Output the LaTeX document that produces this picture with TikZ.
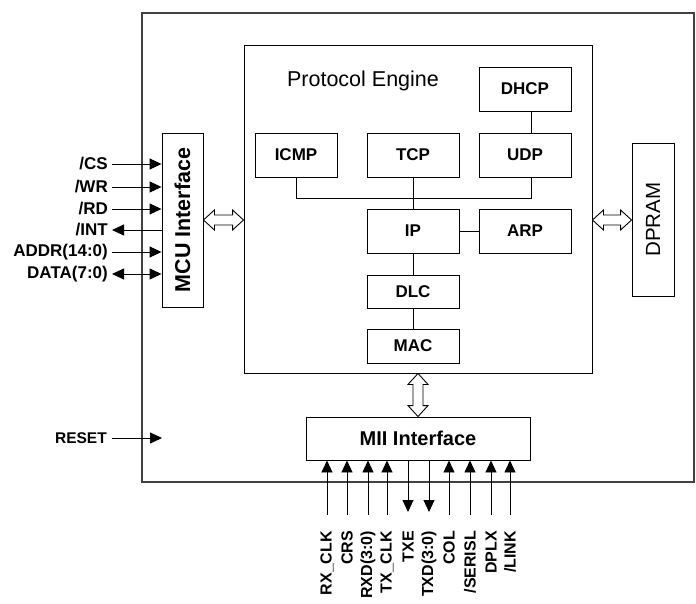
\documentclass[tikz,border=0pt]{standalone}
\usepackage{fontspec}
\setmainfont{Liberation Sans}
\usetikzlibrary{arrows.meta,calc}
\begin{document}
\begin{tikzpicture}[x=1pt,y=-1pt,
  frame/.style={draw=black!75,line width=1.3pt,inner sep=0pt},
  box/.style={draw,line width=0.9pt,inner sep=0pt,
    font=\fontsize{17}{19}\selectfont\bfseries},
  wire/.style={line width=0.9pt},
  sigfont/.style={font=\fontsize{17}{19}\selectfont\bfseries},
  pinfont/.style={font=\fontsize{16}{18}\selectfont\bfseries},
  sigin/.style={line width=0.9pt,-{Triangle[length=12pt,width=11pt]}},
  sigout/.style={line width=0.9pt,{Triangle[length=12pt,width=11pt]}-},
  sigboth/.style={line width=0.9pt,{Triangle[length=12pt,width=11pt]}-{Triangle[length=12pt,width=11pt]}},
  hollow/.style={draw,fill=white,line width=0.9pt,line join=miter}
]
\useasboundingbox (0,0) rectangle (696,604);

% chip outline and the main blocks
\node[frame,minimum width=552pt,minimum height=469pt] (chip) at (418,247.5) {};
\node[box,minimum width=348pt,minimum height=328pt] (pe) at (418,209) {};
\node[font=\fontsize{21.5}{23}\selectfont] (petitle) at (363,81) {Protocol Engine};
\node[box,minimum width=41pt,minimum height=174pt] (mcu) at (182.5,220) {};
\node[rotate=90,font=\fontsize{21.5}{23}\selectfont\bfseries] (mcutext) at (mcu.center) {MCU Interface};
\node[box,minimum width=42pt,minimum height=153pt] (dpram) at (653,219.5) {};
\node[rotate=90,font=\fontsize{20.5}{22}\selectfont] (dpramtext) at (dpram.center) {DPRAM};
\node[box,minimum width=224pt,minimum height=43pt,font=\fontsize{20}{22}\selectfont\bfseries] (mii) at (418,438.5) {MII Interface};

% protocol stack
\node[box,minimum width=92pt,minimum height=44pt] (dhcp) at (525,89) {DHCP};
\node[box,minimum width=82pt,minimum height=44pt] (icmp) at (296,155) {ICMP};
\node[box,minimum width=92pt,minimum height=44pt] (tcp) at (413,155) {TCP};
\node[box,minimum width=92pt,minimum height=44pt] (udp) at (525,155) {UDP};
\node[box,minimum width=92pt,minimum height=44pt] (ip) at (413,231) {IP};
\node[box,minimum width=92pt,minimum height=44pt] (arp) at (525,231) {ARP};
\node[box,minimum width=92pt,minimum height=33pt] (dlc) at (413,291.5) {DLC};
\node[box,minimum width=92pt,minimum height=34pt] (mac) at (413,346) {MAC};

\coordinate (bus) at (413,198);
\coordinate (udpbot) at ($(udp.south)+(6,0)$);
\draw[wire] (icmp.south) -- (icmp.south |- bus) -- (udpbot |- bus) -- (udpbot);
\draw[wire] (tcp.south) -- (ip.north);
\draw[wire] ($(dhcp.south)+(6,0)$) -- ($(udp.north)+(6,0)$);
\draw[wire] (ip.east) -- (arp.west);
\draw[wire] (ip.south) -- (dlc.north);
\draw[wire] (dlc.south) -- (mac.north);

% hollow double arrows between blocks
\coordinate (ma) at (mcu.east |- 0,220);
\coordinate (mb) at (pe.west |- 0,220);
\draw[hollow] (ma) -- ++(11,-10) -- ++(0,5) -- ($(mb)+(-11,-5)$) -- ++(0,-5) -- (mb)
  -- ++(-11,10) -- ++(0,-5) -- ($(ma)+(11,5)$) -- ++(0,5) -- cycle;
\coordinate (da) at (pe.east |- 0,220);
\coordinate (db) at (dpram.west |- 0,220);
\draw[hollow] (da) -- ++(11,-10) -- ++(0,5) -- ($(db)+(-11,-5)$) -- ++(0,-5) -- (db)
  -- ++(-11,10) -- ++(0,-5) -- ($(da)+(11,5)$) -- ++(0,5) -- cycle;
\coordinate (va) at (pe.south);
\coordinate (vb) at (mii.north);
\draw[hollow] (va) -- ++(10,11) -- ++(-5,0) -- ($(vb)+(5,-11)$) -- ++(5,0) -- (vb)
  -- ++(-10,-11) -- ++(5,0) -- ($(va)+(-5,11)$) -- ++(-5,0) -- cycle;

% host bus signals
\foreach \nm/\yy/\lab/\kind in {cs/164/{/CS}/sigin, wr/187/{/WR}/sigin, rd/209/{/RD}/sigin,
    int/230/{/INT}/sigout, addr/252/{ADDR(14:0)}/sigin, data/274/{DATA(7:0)}/sigboth}{
  \coordinate (s\nm) at (112,\yy);
  \node[sigfont,anchor=east,inner sep=0pt] (l\nm) at (108,\yy) {\lab};
  \draw[\kind] (s\nm) -- (s\nm -| mcu.west);
}
\coordinate (sreset) at (112,438);
\coordinate (treset) at (162,438);
\node[font=\fontsize{15.5}{17}\selectfont\bfseries,anchor=east,inner sep=0pt] (lreset) at (107,438) {RESET};
\draw[sigin] (sreset) -- (treset);

% MII pins
\foreach \nm/\xx/\lab in {p1/327/{RX\_CLK}, p2/347/{CRS}, p3/368/{RXD(3:0)},
    p4/387/{TX\_CLK}, p5/408/{TXE}, p6/429/{TXD(3:0)}, p7/449/{COL},
    p8/470/{/SERISL}, p9/491/{DPLX}, p10/510/{/LINK}}{
  \coordinate (\nm) at (\xx,515);
  \node[rotate=90,anchor=east,inner sep=0pt,pinfont] (l\nm) at (\xx,531) {\lab};
}
\foreach \nm in {p1,p2,p3,p4,p7,p8,p9,p10}{
  \draw[sigin] (\nm) -- (\nm |- mii.south);
}
\foreach \nm in {p5,p6}{
  \draw[sigout] ($(\nm)+(0,-3)$) -- (\nm |- mii.south);
}
\end{tikzpicture}
\end{document}
